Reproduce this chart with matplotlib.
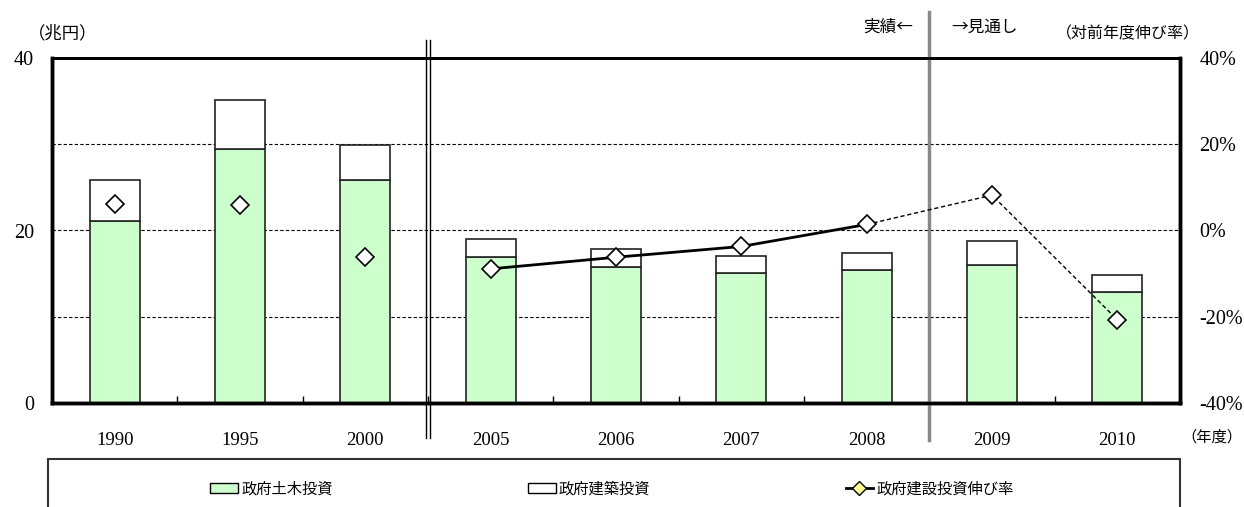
import numpy as np
import matplotlib
matplotlib.use("Agg")
import matplotlib.pyplot as plt
from matplotlib.patches import Patch, Rectangle
from matplotlib.lines import Line2D

plt.rcParams['font.family'] = ['Liberation Serif', 'Noto Sans CJK JP', 'DejaVu Sans']
jp = ['Noto Sans CJK JP', 'DejaVu Sans']

years = ["1990", "1995", "2000", "2005", "2006", "2007", "2008", "2009", "2010"]
doboku = [21.1, 29.4, 25.9, 16.9, 15.8, 15.1, 15.4, 16.0, 12.9]   # 政府土木投資
kenchiku = [4.7, 5.7, 4.0, 2.1, 2.0, 2.0, 2.0, 2.75, 1.9]        # 政府建築投資
growth = [6.1, 5.8, -6.1, -8.9, -6.2, -3.7, 1.4, 8.2, -20.7]     # 政府建設投資伸び率 (%)

green = "#ccffcc"
x = np.arange(len(years))

fig = plt.figure(figsize=(12.44, 5.07), dpi=100)
ax = fig.add_axes([52/1244, 104/507, 1128/1244, 345/507])
ax2 = ax.twinx()

ax.bar(x, doboku, width=0.4, color=green, edgecolor="#222222", linewidth=1.2, zorder=2)
ax.bar(x, kenchiku, width=0.4, bottom=doboku, color="white", edgecolor="#222222", linewidth=1.2, zorder=2)

ax.set_xlim(-0.5, len(years) - 0.5)
ax.set_ylim(0, 40)
ax.set_yticks([0, 10, 20, 30, 40])
ax.set_yticklabels(["0", "", "20", "", "40"], fontsize=14.5)
ax.yaxis.grid(True, linestyle=(0, (3, 2)), color="black", linewidth=0.8)
ax.set_axisbelow(True)
ax.set_xticks(x)
ax.set_xticklabels(years, fontsize=13.5)
ax.set_xticks(np.arange(0.5, len(years) - 0.5), minor=True)
ax.tick_params(axis="x", which="major", length=0, pad=21)
ax.tick_params(axis="x", which="minor", direction="in", length=5, width=1)
ax.tick_params(axis="y", length=0, pad=13)

# growth rate
ax2.set_ylim(-40, 40)
ax2.set_yticks([-40, -20, 0, 20, 40])
ax2.set_yticklabels(["-40%", "-20%", "0%", "20%", "40%"], fontsize=14.5)
ax2.tick_params(axis="y", length=0, pad=14)
ax2.plot(x[3:7], growth[3:7], color="black", linewidth=2, zorder=3)
ax2.plot(x[6:], growth[6:], color="black", linewidth=1, linestyle=(0, (3, 2)), zorder=3)
ax2.plot(x, growth, linestyle="none", marker="D", markersize=9, markerfacecolor="white",
         markeredgecolor="black", markeredgewidth=1.2, zorder=4)

for a in (ax, ax2):
    for s in a.spines.values():
        s.set_linewidth(2.5)
        s.set_color("black")
    a.spines["top"].set_linewidth(2)

# separators
ax.axvline(2.5 - 0.014, ymin=-0.10, ymax=1.052, color="black", linewidth=1, clip_on=False, zorder=5)
ax.axvline(2.5 + 0.014, ymin=-0.10, ymax=1.052, color="black", linewidth=1, clip_on=False, zorder=5)
ax.axvline(6.5, ymin=-0.107, ymax=1.133, color="#888888", linewidth=2.5, clip_on=False, zorder=5)

fig.text(63/1244, 1 - 33/507, "（兆円）", fontsize=12.5, ha="center", va="center", family=jp)
fig.text(913/1244, 1 - 27/507, "実績←", fontsize=12, ha="right", va="center", family=jp)
fig.text(951/1244, 1 - 27/507, "→見通し", fontsize=12, ha="left", va="center", family=jp)
fig.text(1128/1244, 1 - 34/507, "（対前年度伸び率）", fontsize=11.5, ha="center", va="center", family=jp)
fig.text(1242/1244, 1 - 437/507, "（年度）", fontsize=11, ha="right", va="center", family=jp)

# legend
fig.patches.append(Rectangle((48/1244, -0.1), 1132/1244, 48/507 + 0.1, transform=fig.transFigure,
                             fill=False, edgecolor="#333333", linewidth=1.5))
handles = [Patch(facecolor=green, edgecolor="black"),
           Patch(facecolor="white", edgecolor="black"),
           Line2D([], [], color="black", linewidth=2, marker="D", markersize=7,
                  markerfacecolor="#ffff99", markeredgecolor="black")]
labels = ["政府土木投資", "政府建築投資", "政府建設投資伸び率"]
fig.legend(handles, labels, loc="center", bbox_to_anchor=(612/1244, 1 - 489/507), ncol=3,
           frameon=False, columnspacing=12.8, handlelength=1.8, handletextpad=0.2,
           handleheight=0.6, prop={"family": jp, "size": 11})

fig.savefig("out.png", dpi=100)
